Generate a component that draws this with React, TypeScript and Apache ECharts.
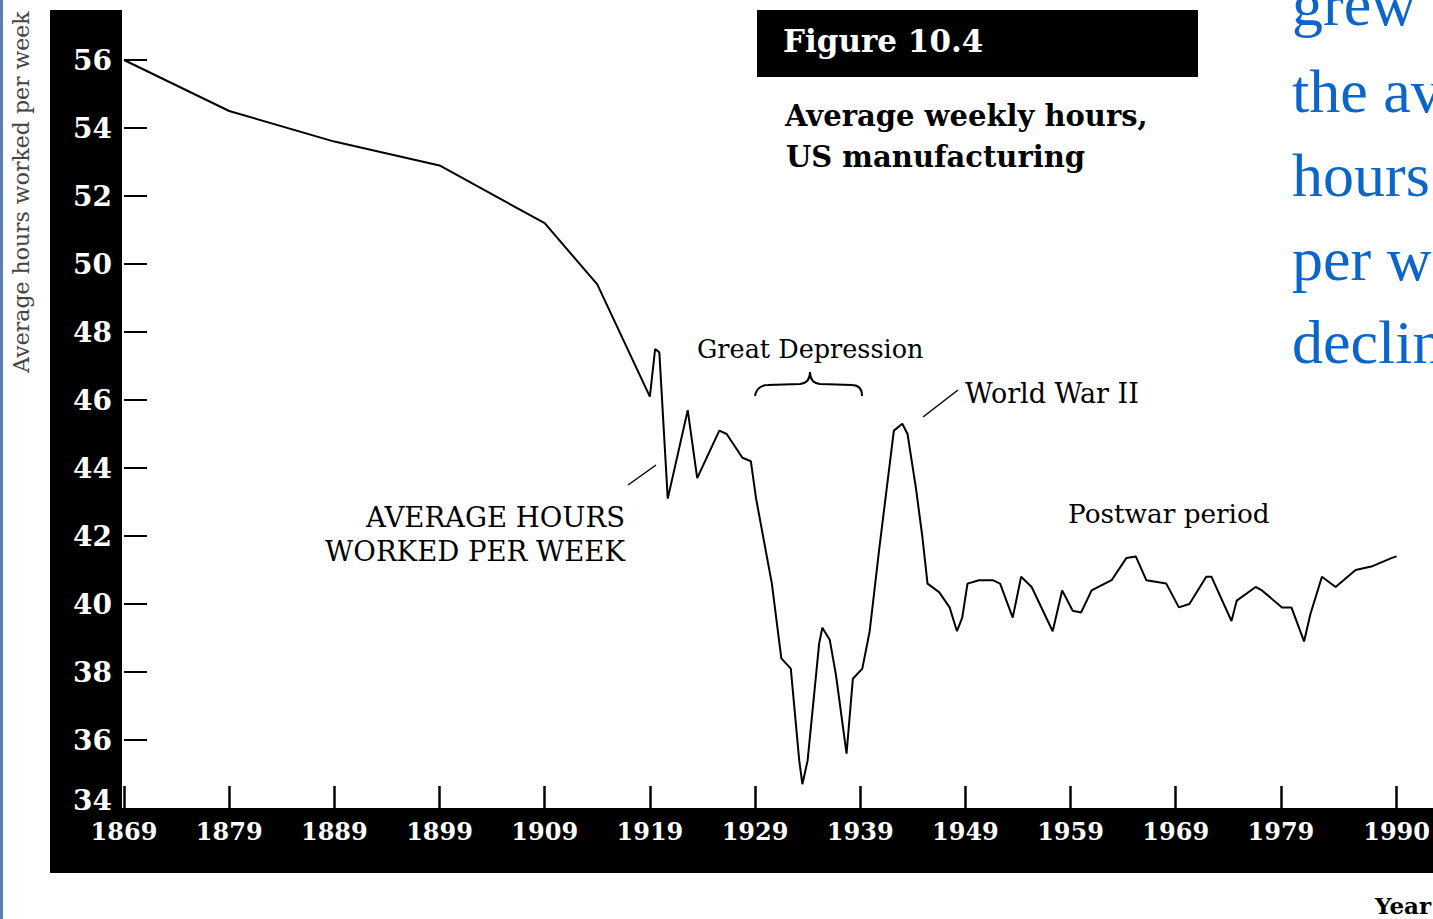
import React, { useEffect, useRef } from "react";
import * as echarts from "echarts";

// ---- Data ----
const years = [
  1869, 1879, 1889, 1899, 1909, 1914, 1919, 1919.5, 1919.9, 1920.7,
  1922.6, 1923.5, 1925.6, 1926.3, 1927.8, 1928.6, 1929.1, 1930.6, 1931.5, 1932.4,
  1933.2, 1933.5, 1934.0, 1935.1, 1935.4, 1936.1, 1936.7, 1937.7, 1938.3, 1939.2,
  1939.9, 1940.8, 1942.2, 1943.0, 1943.5, 1944.3, 1944.9, 1945.4, 1946.5, 1947.5,
  1948.2, 1948.7, 1949.2, 1950.3, 1951.6, 1952.3, 1953.5, 1954.3, 1955.3, 1957.3,
  1958.2, 1959.2, 1960.0, 1961.0, 1962.9, 1964.3, 1965.2, 1966.2, 1968.1, 1969.3,
  1970.3, 1971.9, 1972.4, 1974.3, 1974.8, 1976.6, 1977.2, 1979.1, 1980.0, 1981.2,
  1981.8, 1982.9, 1984.2, 1986.1, 1987.6, 1989.5, 1990,
];
const hours = [
  56.0, 54.5, 53.6, 52.9, 51.2, 49.4, 46.1, 47.5, 47.4, 43.1,
  45.7, 43.7, 45.1, 45.0, 44.3, 44.2, 43.1, 40.6, 38.4, 38.1,
  35.4, 34.7, 35.4, 38.85, 39.3, 38.95, 37.9, 35.6, 37.8, 38.1,
  39.2, 41.6, 45.1, 45.3, 45.0, 43.4, 42.0, 40.6, 40.35, 39.9,
  39.2, 39.6, 40.6, 40.7, 40.7, 40.6, 39.6, 40.8, 40.5, 39.2,
  40.4, 39.8, 39.75, 40.4, 40.7, 41.35, 41.4, 40.7, 40.6, 39.9,
  40.0, 40.8, 40.8, 39.5, 40.1, 40.5, 40.4, 39.9, 39.9, 38.9,
  39.7, 40.8, 40.5, 41.0, 41.1, 41.35, 41.4,
];
const xTickYears = [1869, 1879, 1889, 1899, 1909, 1919, 1929, 1939, 1949, 1959, 1969, 1979, 1990];
const yLabelValues = [34, 36, 38, 40, 42, 44, 46, 48, 50, 52, 54, 56];
const yTickValues = [36, 38, 40, 42, 44, 46, 48, 50, 52, 54, 56];

const figureLabel = "Figure 10.4";
const subtitleLines = ["Average weekly hours,", "US manufacturing"];
const yAxisTitle = "Average hours worked per week";
const blueLines = ["grew", "the av", "hours", "per w", "declin"];

const bracePath =
  "M755 396 Q757 385 768 385 L800 384 Q810 383 810 372 Q810 383 820 384 L852 385 Q862 385 862 396";
echarts.graphic.registerShape("brace", echarts.graphic.extendPath(bracePath, {}));

const SERIF = '"DejaVu Serif", serif';

export default function App() {
  const ref = useRef<HTMLDivElement>(null);

  useEffect(() => {
    if (!ref.current) return;
    const chart = echarts.init(ref.current, undefined, { renderer: "svg" });
    const seriesData = years.map((y, i) => [y, hours[i]]);

    const txt = (text: string, x: number, y: number, opts: any = {}) => ({
      type: "text",
      x,
      y,
      z: 20,
      style: {
        text,
        fill: "#000",
        fontFamily: SERIF,
        fontSize: 25,
        fontWeight: "normal",
        align: "left",
        verticalAlign: "middle",
        ...opts,
      },
    });

    const yLabelFont = { color: "#fff", fontFamily: SERIF, fontWeight: "bold", fontSize: 28 };

    chart.setOption({
      animation: false,
      backgroundColor: "#fff",
      grid: { left: 124, right: 0, top: 9, bottom: 111 },
      xAxis: {
        type: "value",
        min: 1869,
        max: 1993.35,
        axisLine: { show: false },
        splitLine: { show: false },
        axisTick: {
          show: true,
          inside: true,
          length: 22,
          customValues: xTickYears,
          lineStyle: { color: "#000", width: 2.5 },
        },
        axisLabel: {
          customValues: xTickYears,
          color: "#fff",
          fontFamily: SERIF,
          fontWeight: "bold",
          fontSize: 24,
          margin: 11,
          formatter: (v: number) => String(Math.round(v)),
        },
      },
      yAxis: {
        type: "value",
        min: 34,
        max: 57.5,
        axisLine: { show: false },
        splitLine: { show: false },
        axisTick: {
          show: true,
          inside: true,
          length: 23,
          customValues: yTickValues,
          lineStyle: { color: "#000", width: 2 },
        },
        axisLabel: {
          customValues: yLabelValues,
          ...yLabelFont,
          margin: 12,
          formatter: (v: number) => (v === 34 ? "{low|34}" : String(v)),
          rich: {
            low: { ...yLabelFont, padding: [0, 0, 16, 0] },
          },
        },
      },
      series: [
        {
          type: "line",
          data: seriesData,
          showSymbol: false,
          z: 5,
          lineStyle: { color: "#000", width: 2 },
        },
      ],
      graphic: [
        { type: "rect", z: -10, shape: { x: 0, y: 0, width: 3, height: 919 }, style: { fill: "#5b7fb4" } },
        { type: "rect", z: -10, shape: { x: 50, y: 10, width: 72, height: 863 }, style: { fill: "#000" } },
        { type: "rect", z: -10, shape: { x: 50, y: 808, width: 1383, height: 65 }, style: { fill: "#000" } },
        { type: "rect", z: 10, shape: { x: 757, y: 10, width: 441, height: 67 }, style: { fill: "#000" } },
        txt(figureLabel, 783, 41, { fill: "#fff", fontWeight: "bold", fontSize: 31 }),
        txt(subtitleLines[0], 785, 116, { fontWeight: "bold", fontSize: 29 }),
        txt(subtitleLines[1], 786, 157, { fontWeight: "bold", fontSize: 29 }),
        {
          type: "text",
          x: 21,
          y: 192,
          rotation: Math.PI / 2,
          z: 20,
          style: {
            text: yAxisTitle,
            fill: "#444",
            fontFamily: SERIF,
            fontSize: 22,
            align: "center",
            verticalAlign: "middle",
          },
        },
        txt("Great Depression", 697, 349, { fontSize: 25.5 }),
        { type: "brace", x: 0, y: 0, z: 20, style: { stroke: "#000", fill: "none", lineWidth: 2 } },
        txt("World War II", 965, 393, { fontSize: 27 }),
        { type: "line", z: 20, shape: { x1: 923, y1: 417, x2: 958, y2: 390 }, style: { stroke: "#000", lineWidth: 1.5 } },
        txt("AVERAGE HOURS", 625, 517, { fontSize: 27.5, align: "right" }),
        txt("WORKED PER WEEK", 625, 551, { fontSize: 27.5, align: "right" }),
        { type: "line", z: 20, shape: { x1: 628, y1: 485, x2: 656, y2: 465 }, style: { stroke: "#000", lineWidth: 1.5 } },
        txt("Postwar period", 1068, 514, { fontSize: 26.3 }),
        txt("Year", 1375, 905, { fontSize: 23, fontWeight: "bold" }),
        ...blueLines.map((t, i) =>
          txt(t, 1292, [4, 91, 175, 259, 342][i], {
            fill: "#0b66cc",
            fontFamily: '"Liberation Serif", serif',
            fontSize: 62,
          })
        ),
      ],
    });

    return () => chart.dispose();
  }, []);

  return (
    <div
      ref={ref}
      style={{ position: "fixed", left: 0, top: 0, width: 1433, height: 919, background: "#fff" }}
    />
  );
}
